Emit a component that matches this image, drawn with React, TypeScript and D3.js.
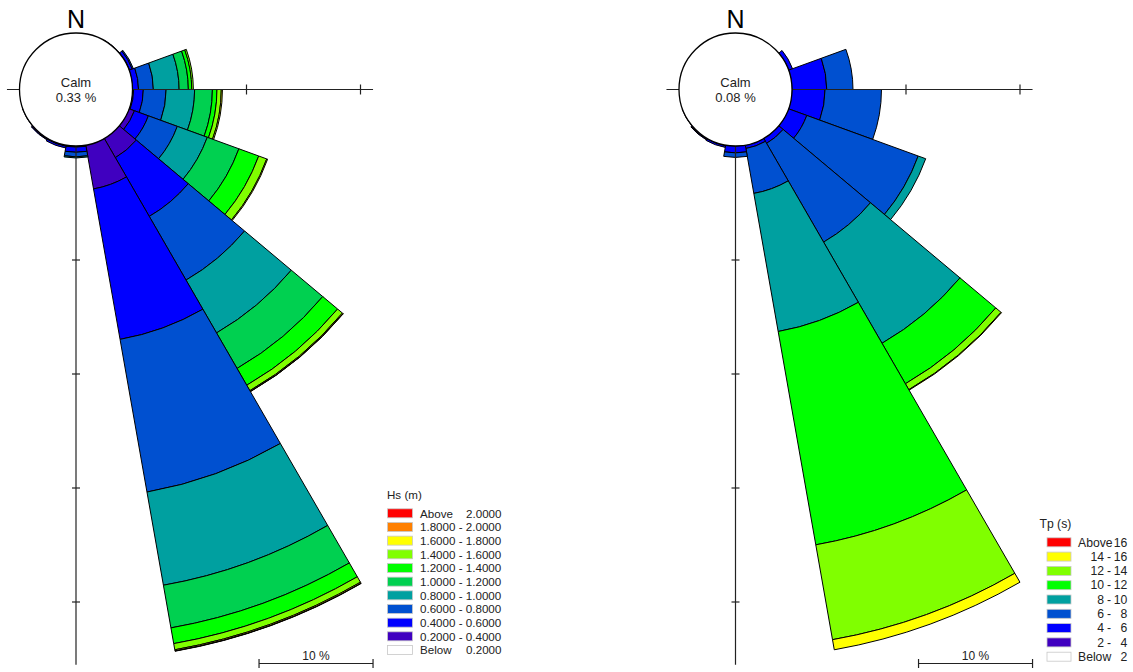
import React from "react";
import * as d3 from "d3";

// Direction sectors: centred on every 20 degrees, each 20 degrees wide
const directions = [0, 20, 40, 60, 80, 100, 120, 140, 160, 180, 200, 220, 240, 260, 280, 300, 320, 340];
const sectorWidth = 20;

// Significant wave height rose, frequency (%) per direction and Hs class
const hsCalm = 0.33;
const hs02_04 = [0, 0, 0.03, 0.05, 0, 0.1, 0.5, 1.95, 3.9, 0.1, 0.1, 0.1, 0.03, 0, 0, 0, 0, 0];
const hs04_06 = [0, 0, 0, 0.25, 0.53, 0.85, 1.3, 5.95, 13.4, 0.45, 0.15, 0.05, 0, 0, 0, 0, 0, 0];
const hs06_08 = [0, 0, 0, 0.1, 1.3, 2.0, 2.7, 6.45, 13.6, 0.4, 0, 0, 0, 0, 0, 0, 0, 0];
const hs08_10 = [0, 0, 0, 0, 2.26, 2.5, 2.8, 5.35, 8.3, 0.1, 0, 0, 0, 0, 0, 0, 0, 0];
const hs10_12 = [0, 0, 0, 0, 0.81, 1.56, 2.95, 3.6, 3.8, 0, 0, 0, 0, 0, 0, 0, 0, 0];
const hs12_14 = [0, 0, 0, 0, 0.3, 0.4, 1.85, 1.7, 1.4, 0, 0, 0, 0, 0, 0, 0, 0, 0];
const hs14_16 = [0, 0, 0, 0, 0.14, 0.38, 0.75, 0.55, 0.55, 0, 0, 0, 0, 0, 0, 0, 0, 0];
const hs16_18 = [0, 0, 0, 0, 0, 0.1, 0.08, 0.08, 0.1, 0, 0, 0, 0, 0, 0, 0, 0, 0];
const hs18_20 = [0, 0, 0, 0, 0, 0, 0, 0.02, 0.03, 0, 0, 0, 0, 0, 0, 0, 0, 0];
const hsAbove20 = [0, 0, 0, 0, 0, 0, 0, 0, 0, 0, 0, 0, 0, 0, 0, 0, 0, 0];

// Peak period rose, frequency (%) per direction and Tp class
const tpCalm = 0.08;
const tp02_04 = [0, 0, 0, 0.02, 0, 0, 0, 0, 0, 0, 0.05, 0.1, 0.03, 0, 0, 0, 0, 0];
const tp04_06 = [0, 0, 0, 0.35, 3.05, 2.9, 1.7, 0.5, 0.3, 0.6, 0.15, 0.05, 0, 0, 0, 0, 0, 0];
const tp06_08 = [0, 0, 0, 0, 2.3, 4.95, 10.4, 10.0, 4.0, 0.4, 0, 0, 0, 0, 0, 0, 0, 0];
const tp08_10 = [0, 0, 0, 0, 0, 0, 0.7, 10.25, 12.3, 0, 0, 0, 0, 0, 0, 0, 0, 0];
const tp10_12 = [0, 0, 0, 0, 0, 0, 0, 4.1, 19.0, 0, 0, 0, 0, 0, 0, 0, 0, 0];
const tp12_14 = [0, 0, 0, 0, 0, 0, 0, 0.6, 8.45, 0, 0, 0, 0, 0, 0, 0, 0, 0];
const tp14_16 = [0, 0, 0, 0, 0, 0, 0, 0.05, 0.9, 0, 0, 0, 0, 0, 0, 0, 0, 0];
const tpAbove16 = [0, 0, 0, 0, 0, 0, 0, 0, 0, 0, 0, 0, 0, 0, 0, 0, 0, 0];

// Class colours
const cPurple = "#4000C0";
const cBlue = "#0000FF";
const cMidBlue = "#0050D0";
const cTeal = "#00A0A0";
const cSeaGreen = "#00D050";
const cGreen = "#00FF00";
const cLime = "#80FF00";
const cYellow = "#FFFF00";
const cOrange = "#FF8000";
const cRed = "#FF0000";

// Stacking order from the calm circle outwards
const hsClasses = [
  { values: hs02_04, color: cPurple },
  { values: hs04_06, color: cBlue },
  { values: hs06_08, color: cMidBlue },
  { values: hs08_10, color: cTeal },
  { values: hs10_12, color: cSeaGreen },
  { values: hs12_14, color: cGreen },
  { values: hs14_16, color: cLime },
  { values: hs16_18, color: cYellow },
  { values: hs18_20, color: cOrange },
  { values: hsAbove20, color: cRed },
];
const tpClasses = [
  { values: tp02_04, color: cPurple },
  { values: tp04_06, color: cBlue },
  { values: tp06_08, color: cMidBlue },
  { values: tp08_10, color: cTeal },
  { values: tp10_12, color: cGreen },
  { values: tp12_14, color: cLime },
  { values: tp14_16, color: cYellow },
  { values: tpAbove16, color: cRed },
];

// Legend rows, top to bottom
const hsLegendTitle = "Hs (m)";
const hsLegendColors = [cRed, cOrange, cYellow, cLime, cGreen, cSeaGreen, cTeal, cMidBlue, cBlue, cPurple, "#FFFFFF"];
const hsLegendLeft = ["Above", "1.8000 - 2.0000", "1.6000 - 1.8000", "1.4000 - 1.6000", "1.2000 - 1.4000", "1.0000 - 1.2000", "0.8000 - 1.0000", "0.6000 - 0.8000", "0.4000 - 0.6000", "0.2000 - 0.4000", "Below"];
const hsLegendRight = ["2.0000", "", "", "", "", "", "", "", "", "", "0.2000"];

const tpLegendTitle = "Tp (s)";
const tpLegendColors = [cRed, cYellow, cLime, cGreen, cTeal, cMidBlue, cBlue, cPurple, "#FFFFFF"];
const tpLegendLow = ["Above", "14", "12", "10", "8", "6", "4", "2", "Below"];
const tpLegendHigh = ["16", "16", "14", "12", "10", "8", "6", "4", "2"];

const FONT = "'Liberation Sans', Arial, Helvetica, sans-serif";
const pxPerTen = 114;
const calmRadius = 56.5;

function Rose({ cx, cy, classes, calm }: { cx: number; cy: number; classes: { values: number[]; color: string }[]; calm: number }) {
  const r = d3.scaleLinear().domain([0, 10]).range([calmRadius, calmRadius + pxPerTen]);
  const arc = d3.arc<any>();
  const toRad = (deg: number) => (deg * Math.PI) / 180;

  const pieces: { d: string; color: string; key: string }[] = [];
  directions.forEach((dir, i) => {
    let cum = 0;
    classes.forEach((cls, j) => {
      const v = cls.values[i];
      if (v <= 0) return;
      const d = arc({
        innerRadius: r(cum),
        outerRadius: r(cum + v),
        startAngle: toRad(dir - sectorWidth / 2),
        endAngle: toRad(dir + sectorWidth / 2),
      }) as string;
      pieces.push({ d, color: cls.color, key: `${i}-${j}` });
      cum += v;
    });
  });

  // Axis extents in percent
  const eastEnd = 21.1;
  const southEnd = 45.5;
  const westEnd = 1.1;
  const eastTicks = [10, 20];
  const southTicks = [10, 20, 30, 40];
  const axisColor = "#222";

  return (
    <g transform={`translate(${cx},${cy})`}>
      {pieces.map((p) => (
        <path key={p.key} d={p.d} fill={p.color} stroke="#000" strokeWidth={1} strokeLinejoin="round" />
      ))}
      <line x1={-r(westEnd)} x2={r(eastEnd)} y1={0} y2={0} stroke={axisColor} strokeWidth={1.2} />
      <line x1={0} x2={0} y1={0} y2={r(southEnd)} stroke={axisColor} strokeWidth={1.2} />
      {eastTicks.map((t) => (
        <line key={`e${t}`} x1={r(t)} x2={r(t)} y1={-5} y2={5} stroke={axisColor} strokeWidth={1.2} />
      ))}
      {southTicks.map((t) => (
        <line key={`s${t}`} x1={-4} x2={4} y1={r(t)} y2={r(t)} stroke={axisColor} strokeWidth={1.2} />
      ))}
      <circle r={calmRadius} fill="#fff" stroke="#000" strokeWidth={1.3} />
      <text x={0} y={-2.5} textAnchor="middle" fontSize={13} fontFamily={FONT} fill="#222">Calm</text>
      <text x={0} y={12.5} textAnchor="middle" fontSize={13} fontFamily={FONT} fill="#222">{calm.toFixed(2)} %</text>
      <text x={0} y={-61.5} textAnchor="middle" fontSize={25} fontFamily={FONT} fill="#000">N</text>
      {/* 10 % scale bar ending at the east axis end */}
      <g transform={`translate(${r(eastEnd) - pxPerTen},${574})`}>
        <line x1={0} x2={pxPerTen} y1={0} y2={0} stroke={axisColor} strokeWidth={1.2} />
        <line x1={0} x2={0} y1={-4.5} y2={4.5} stroke={axisColor} strokeWidth={1.2} />
        <line x1={pxPerTen} x2={pxPerTen} y1={-4.5} y2={4.5} stroke={axisColor} strokeWidth={1.2} />
        <text x={pxPerTen / 2} y={-4} textAnchor="middle" fontSize={12} fontFamily={FONT} fill="#222">10 %</text>
      </g>
    </g>
  );
}

function HsLegend({ x, y }: { x: number; y: number }) {
  const step = 13.67;
  return (
    <g transform={`translate(${x},${y})`} fontFamily={FONT} fontSize={11.6} fill="#222">
      <text x={0} y={-14}>{hsLegendTitle}</text>
      {hsLegendColors.map((c, i) => (
        <g key={i} transform={`translate(0,${i * step})`}>
          <rect x={0.5} y={-4.5} width={25} height={9} fill={c} stroke="#c8c8c8" strokeWidth={0.8} />
          <text x={33} y={4.2}>{hsLegendLeft[i]}</text>
          {hsLegendRight[i] && (
            <text x={114.5} y={4.2} textAnchor="end">{hsLegendRight[i]}</text>
          )}
        </g>
      ))}
    </g>
  );
}

function TpLegend({ x, y }: { x: number; y: number }) {
  const step = 14.3;
  return (
    <g transform={`translate(${x},${y})`} fontFamily={FONT} fontSize={12.2} fill="#222">
      <text x={-7} y={-14.5}>{tpLegendTitle}</text>
      {tpLegendColors.map((c, i) => {
        const word = tpLegendLow[i] === "Above" || tpLegendLow[i] === "Below";
        return (
          <g key={i} transform={`translate(0,${i * step})`}>
            <rect x={0.5} y={-4.5} width={24} height={9} fill={c} stroke="#c8c8c8" strokeWidth={0.8} />
            {word ? (
              <text x={31.5} y={4.2}>{tpLegendLow[i]}</text>
            ) : (
              <>
                <text x={57.5} y={4.2} textAnchor="end">{tpLegendLow[i]}</text>
                <text x={62.5} y={4.2} textAnchor="middle">-</text>
              </>
            )}
            <text x={80.7} y={4.2} textAnchor="end">{tpLegendHigh[i]}</text>
          </g>
        );
      })}
    </g>
  );
}

export default function App() {
  return (
    <svg
      width={1133}
      height={672}
      style={{ position: "fixed", left: 0, top: 0, background: "#fff" }}
    >
      <rect width={1133} height={672} fill="#fff" />
      <Rose cx={76} cy={89.5} classes={hsClasses} calm={hsCalm} />
      <Rose cx={735.5} cy={89.5} classes={tpClasses} calm={tpCalm} />
      <HsLegend x={387} y={513.3} />
      <TpLegend x={1046.5} y={542.3} />
    </svg>
  );
}
